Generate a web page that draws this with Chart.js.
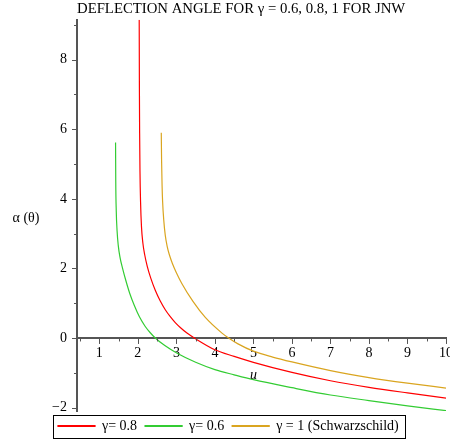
<!DOCTYPE html>
<html>
<head>
<meta charset="utf-8">
<title>Deflection angle for JNW</title>
<script src="https://cdn.jsdelivr.net/npm/chart.js@4.4.1/dist/chart.umd.min.js"></script>
<style>
  html, body { margin: 0; padding: 0; background: #fff; }
  #wrap { position: relative; width: 450px; height: 442px; }
</style>
</head>
<body>
<div id="wrap"><canvas id="deflectionChart"></canvas></div>
<script>
// values: impact parameter u and deflection angle alpha(theta)
const uGamma08 = [2.035, 2.040, 2.046, 2.055, 2.070, 2.094, 2.130, 2.179, 2.244, 2.335, 2.452, 2.582, 2.712, 2.842, 2.971, 3.101, 3.275, 3.465, 4.0, 4.5, 5, 6, 7, 8, 9, 10];
const alphaGamma08 = [9.15, 7.2, 5.9, 4.8, 3.92, 3.20, 2.73, 2.385, 2.06, 1.72, 1.37, 1.06, 0.81, 0.61, 0.44, 0.30, 0.14, 0, -0.34, -0.53, -0.70, -0.99, -1.23, -1.42, -1.58, -1.73];

const uGamma06 = [1.421, 1.426, 1.439, 1.460, 1.491, 1.538, 1.603, 1.686, 1.790, 1.906, 2.044, 2.192, 2.322, 2.452, 2.7, 3.02, 3.5, 4.0, 4.5, 5, 6, 7, 8, 9, 10];
const alphaGamma06 = [5.62, 4.53, 3.66, 3.09, 2.66, 2.31, 2.00, 1.66, 1.28, 0.94, 0.60, 0.33, 0.15, 0, -0.22, -0.44, -0.70, -0.91, -1.06, -1.20, -1.43, -1.64, -1.80, -1.95, -2.09];

const uGamma1 = [2.608, 2.616, 2.629, 2.642, 2.673, 2.712, 2.758, 2.816, 2.894, 2.997, 3.145, 3.431, 3.751, 4.184, 4.356, 4.6, 5.0, 5.5, 6, 7, 8, 9, 10];
const alphaGamma1 = [5.90, 5.10, 4.38, 3.94, 3.38, 2.95, 2.65, 2.40, 2.15, 1.885, 1.56, 1.05, 0.59, 0.14, 0, -0.17, -0.38, -0.55, -0.69, -0.94, -1.14, -1.30, -1.44];

const xTickLabels = [1, 2, 3, 4, 5, 6, 7, 8, 9, 10];
const yTickLabels = [-2, 0, 2, 4, 6, 8];

const toPoints = (us, as) => us.map((u, i) => ({ x: u, y: as[i] }));

Chart.defaults.font.family = "'Liberation Serif', 'Times New Roman', serif";
Chart.defaults.font.size = 14;
Chart.defaults.color = '#000';

// ticks (long on labelled values, short otherwise), axis names and legend frame
const mapleAxes = {
    id: 'mapleAxes',
    afterDraw(chart) {
        const { ctx, chartArea, scales: { x, y } } = chart;
        const y0 = y.getPixelForValue(0);
        ctx.save();
        ctx.strokeStyle = '#555';
        ctx.lineWidth = 1;
        ctx.beginPath();
        x.ticks.forEach(t => {
            const px = Math.round(x.getPixelForValue(t.value)) + 0.5;
            const len = xTickLabels.includes(t.value) ? 6 : 3.5;
            ctx.moveTo(px, y0);
            ctx.lineTo(px, y0 + len);
        });
        y.ticks.forEach(t => {
            const py = Math.round(y.getPixelForValue(t.value)) + 0.5;
            const len = yTickLabels.includes(t.value) ? 5 : 3;
            ctx.moveTo(chartArea.left - len, py);
            ctx.lineTo(chartArea.left, py);
        });
        ctx.stroke();

        ctx.fillStyle = '#000';
        ctx.textAlign = 'center';
        ctx.textBaseline = 'middle';
        ctx.font = "14px 'Liberation Serif', serif";
        ctx.fillText('α (θ)', chartArea.left - 51, (chartArea.top + chartArea.bottom) / 2 + 3);
        ctx.font = "italic 14px 'Liberation Serif', serif";
        ctx.fillText('u', x.getPixelForValue(5), y0 + 37);

        const boxes = chart.legend.legendHitBoxes;
        if (boxes && boxes.length) {
            const first = boxes[0], last = boxes[boxes.length - 1];
            const mid = first.top + first.height / 2;
            const left = Math.round(first.left - 5), right = Math.round(last.left + last.width + 6);
            ctx.strokeStyle = '#000';
            ctx.lineWidth = 1;
            ctx.strokeRect(left + 0.5, Math.round(mid - 11.5) + 0.5, right - left, 23);
        }
        ctx.restore();
    }
};

const ctx = document.getElementById('deflectionChart').getContext('2d');

new Chart(ctx, {
    type: 'line',
    data: {
        datasets: [{
            label: 'γ= 0.8',
            data: toPoints(uGamma08, alphaGamma08),
            borderColor: '#ff0000',
            backgroundColor: '#ff0000',
            borderWidth: 1.2,
            pointRadius: 0,
            cubicInterpolationMode: 'monotone'
        }, {
            label: 'γ= 0.6',
            data: toPoints(uGamma06, alphaGamma06),
            borderColor: '#33cc33',
            backgroundColor: '#33cc33',
            borderWidth: 1.2,
            pointRadius: 0,
            cubicInterpolationMode: 'monotone'
        }, {
            label: 'γ = 1 (Schwarzschild)',
            data: toPoints(uGamma1, alphaGamma1),
            borderColor: '#daa520',
            backgroundColor: '#daa520',
            borderWidth: 1.2,
            pointRadius: 0,
            cubicInterpolationMode: 'monotone'
        }]
    },
    options: {
        responsive: true,
        maintainAspectRatio: false,
        animation: false,
        layout: {
            padding: { left: 50, right: 4, top: 0, bottom: -1 }
        },
        plugins: {
            title: {
                display: true,
                fullSize: false,
                align: 'start',
                text: 'DEFLECTION ANGLE FOR γ = 0.6, 0.8, 1 FOR JNW',
                color: '#000',
                font: { size: 14.75, weight: 'normal' },
                padding: { top: 0, bottom: 2 }
            },
            legend: {
                position: 'bottom',
                align: 'start',
                labels: {
                    boxWidth: 37,
                    boxHeight: 1,
                    padding: 8,
                    color: '#000',
                    font: { size: 14 }
                }
            },
            tooltip: { enabled: false }
        },
        scales: {
            x: {
                type: 'linear',
                position: { y: 0 },
                min: 0.42,
                max: 10,
                grid: { drawOnChartArea: false, drawTicks: false },
                border: { display: true, color: '#555', width: 2 },
                ticks: {
                    stepSize: 0.5,
                    includeBounds: false,
                    autoSkip: false,
                    maxRotation: 0,
                    padding: 7,
                    color: '#000',
                    callback: v => xTickLabels.includes(v) ? String(v) : ''
                },
                afterFit: scale => { scale.paddingLeft = 0; scale.paddingRight = 0; }
            },
            y: {
                type: 'linear',
                position: 'left',
                min: -2.1,
                max: 9.15,
                grid: { drawOnChartArea: false, drawTicks: false },
                border: { display: true, color: '#555', width: 2 },
                ticks: {
                    stepSize: 1,
                    includeBounds: false,
                    autoSkip: false,
                    padding: 10,
                    color: '#000',
                    callback: v => yTickLabels.includes(v) ? (v < 0 ? '−' + Math.abs(v) : String(v)) : ''
                },
                afterFit: scale => { scale.width = 27; }
            }
        }
    },
    plugins: [mapleAxes]
});
</script>
</body>
</html>
